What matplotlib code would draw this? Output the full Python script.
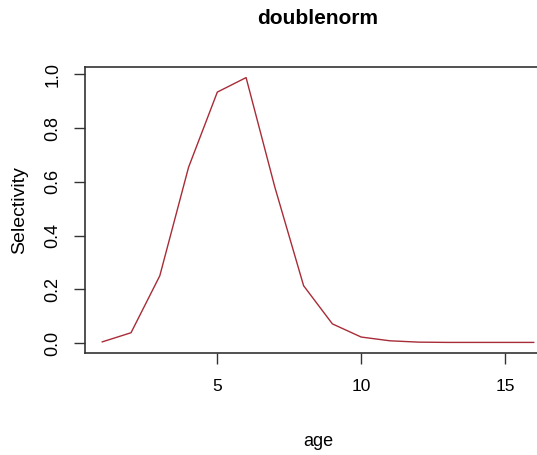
import numpy as np
import matplotlib.pyplot as plt

# selectivity at age (doublenorm curve)
ages = [1, 2, 3, 4, 5, 6, 7, 8, 9, 10, 11, 12, 13, 14, 15, 16]
selex = [0.004, 0.038, 0.25, 0.654, 0.934, 0.988, 0.58, 0.213, 0.071, 0.022,
         0.008, 0.003, 0.002, 0.002, 0.002, 0.002]
xticks = [5, 10, 15]
yticks = [0.0, 0.2, 0.4, 0.6, 0.8, 1.0]

font = ['Liberation Sans']

W, H = 537, 455
fig = plt.figure(figsize=(W/100, H/100), dpi=100)
# R plot region; right side runs past the edge of the picture
ax = fig.add_axes([85/W, 1-353/H, 466/W, 286/H])

ax.plot(ages, selex, color='#a82c38', lw=1.0)

# R style 4% axis extension
xr = max(ages) - min(ages)
yr = max(selex) - min(selex)
ax.set_xlim(min(ages) - 0.04*xr, max(ages) + 0.04*xr)
ax.set_ylim(min(selex) - 0.04*yr, max(selex) + 0.04*yr)

ax.set_xticks(xticks)
ax.set_xticklabels([str(t) for t in xticks], family=font, fontsize=12.5)
ax.set_yticks(yticks)
ax.set_yticklabels(['%.1f' % t for t in yticks], family=font, fontsize=13,
                   rotation=90, va='center')
ax.tick_params(axis='x', length=8, width=1, color='#333333', pad=11)
ax.tick_params(axis='y', length=8, width=1, color='#333333', pad=9)
for s in ax.spines.values():
    s.set_color('#333333')
    s.set_linewidth(1.2)

fig.text(318/W, 1-18/H, 'doublenorm', ha='center', va='center',
         family=font, fontsize=15, fontweight='bold')
fig.text(318/W, 1-442/H, 'age', ha='center', va='center',
         family=font, fontsize=13)
fig.text(20/W, 1-210/H, 'Selectivity', ha='center', va='center',
         family=font, fontsize=14, rotation=90)

fig.savefig('out.png', dpi=100)
